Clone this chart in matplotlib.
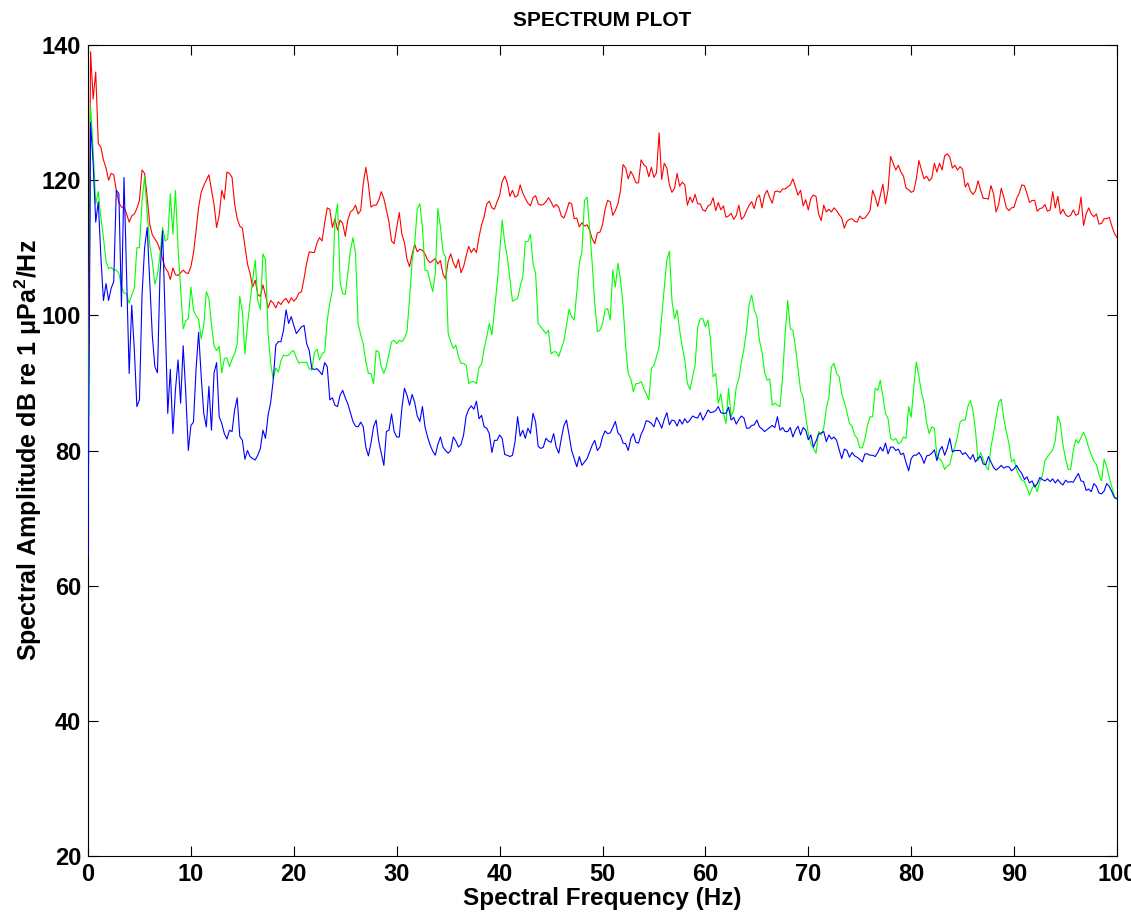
import numpy as np
import matplotlib
matplotlib.use('Agg')
import matplotlib.pyplot as plt

# frequency bins (Hz), 0.25 Hz spacing from 0 to 100
freq = np.arange(401) * 0.25

# spectral amplitudes (dB re 1 uPa^2/Hz), one row per 5 Hz
red_db = [
    82, 139, 132, 136, 125.4, 124.9, 123, 121.8, 120, 121, 120.8, 118.5, 116.7, 116, 116, 115, 113.8, 114.7, 115, 115.8,
    117, 121.5, 121, 117.5, 113.5, 111.9, 111.3, 110.7, 109.7, 108.3, 107, 106.5, 105.3, 107, 106, 105.9, 106.3, 106.7, 106.3, 106.2,
    107.2, 109.2, 112.5, 116, 118.2, 119.2, 120, 120.8, 118.6, 116.4, 113, 114.8, 118.5, 117.2, 121.2, 121, 120.4, 116.5, 114.3, 113.2,
    112.9, 110.3, 107.6, 106.2, 104.2, 105.2, 103.1, 102.8, 104.5, 103, 101.1, 102.2, 101.8, 101.1, 102, 101.6, 102.2, 102.5, 101.8, 102.6,
    102.1, 102.5, 103.3, 103.5, 105.5, 107.7, 109.4, 109.3, 109.3, 110.7, 111.5, 111, 113.7, 115.9, 115.7, 113, 114.3, 112.6, 114.1, 113.6,
    111.7, 114.1, 115.3, 115.6, 116.3, 115, 115.5, 119.5, 121.9, 119.4, 116, 116.3, 116.3, 117, 118.3, 117.3, 115.6, 113.8, 111, 110.6,
    113, 115.2, 112, 110.8, 108.3, 107.2, 109, 110.5, 109.4, 109.8, 109.6, 109.1, 108.2, 107.8, 108.1, 108.4, 107.6, 108.1, 106.1, 105.4,
    108, 109.1, 107.8, 107, 108.3, 106.3, 107.2, 108.8, 110.2, 109.3, 109.9, 109.3, 111.6, 113.4, 114.6, 116.5, 116.9, 115.9, 115.7, 116.8,
    117.7, 119.8, 120.6, 119.6, 117.6, 118.5, 117.5, 117.7, 119.3, 118.1, 117.3, 116.6, 116.2, 117.4, 117.7, 116.5, 116.3, 116.4, 116.8, 117.4,
    116.8, 116, 116.4, 116, 114.7, 114.4, 115.4, 116.7, 116.5, 114.3, 114.4, 113.1, 113.7, 113.2, 113.4, 112.6, 111.3, 110.6, 112.2, 112.3,
    113.4, 115.7, 117, 116.8, 114.8, 115.5, 116.5, 118.5, 122.3, 121.8, 120.2, 121.3, 120.6, 119.6, 119.6, 123, 122.3, 122, 120.5, 121.9,
    120.4, 121.1, 127, 120.1, 122.5, 121.8, 119.3, 118.2, 118.8, 121, 119.1, 119.7, 119.3, 116.3, 117.5, 116.7, 117.9, 116.5, 116.5, 115.6,
    115.4, 116.2, 116.4, 117.4, 115.5, 116.7, 115.6, 116.2, 114.5, 114.7, 115.1, 114.2, 114.8, 116.3, 114.2, 114.6, 115.5, 116.3, 116.8, 115.8,
    117.4, 117.8, 115.9, 117.8, 118.5, 117.4, 116.6, 118.3, 118.4, 118.2, 118.7, 118.7, 119, 119.3, 120.2, 119, 117.8, 118.5, 116.2, 117.1,
    115.6, 117.3, 117.8, 117.6, 115, 114, 116.3, 115.3, 115.7, 115.3, 115.9, 115.5, 114.9, 114.4, 112.9, 113.9, 114.2, 114.3, 113.9, 113.8,
    114.7, 114.3, 114.4, 114.9, 115.5, 118.5, 117.5, 116.1, 117.8, 119.4, 116.5, 118.6, 123.5, 122.5, 121.5, 122.2, 121.2, 120.6, 118.8, 118.6,
    118.2, 118.4, 120.2, 122.9, 121.5, 120.2, 120.6, 119.9, 120.3, 122.5, 121.2, 122.5, 121.5, 123.6, 123.9, 123.4, 121.8, 122.2, 121.5, 122,
    121.6, 119, 119.6, 118.4, 117.9, 118.4, 119.9, 118.5, 117.3, 117.3, 117.2, 119.2, 118, 115.3, 116.4, 118.8, 117.5, 115.9, 115.5, 115.9,
    116, 117.3, 118.1, 119.3, 119.2, 118, 116.7, 117, 117, 115.4, 115.8, 115.9, 116.4, 115.4, 115.6, 118.3, 115.9, 117.6, 115, 115.7,
    114.9, 114.6, 114.8, 115.6, 114.8, 115, 117.5, 113.3, 115, 115.9, 115, 114.6, 115, 113.5, 113.6, 114.3, 114.3, 114.5, 113.2, 112.1,
    111.5,
]

green_db = [
    74.6, 131, 124.5, 116.5, 118.3, 114.5, 111.5, 108, 106.9, 107.1, 106.7, 106.7, 106.2, 104.3, 103.3, 103.2, 101.8, 103, 104, 110,
    110, 117, 120.5, 115, 110.5, 108, 104.6, 106, 109, 113, 111, 111.3, 118, 112, 118.5, 110, 104, 98, 99.2, 99.5,
    104.2, 100.8, 99.9, 99.4, 96.5, 98.5, 103.5, 102.5, 98.6, 95.5, 94.8, 95.4, 91.5, 93.6, 93.7, 92.4, 93.5, 94.3, 95.8, 102.8,
    100.5, 94.3, 98.6, 102, 105.2, 108.2, 102.2, 100.9, 109.1, 108.2, 97.3, 92.9, 90.6, 92.2, 91.6, 93.3, 94.1, 94.0, 94.1, 94.6,
    94.8, 93.7, 92.9, 93.1, 93.0, 93.1, 92.1, 91.9, 94.5, 95.0, 93.4, 94.3, 94.6, 99.3, 101.8, 103.7, 114.1, 116.5, 104.9, 103.2,
    103.1, 106.2, 109.6, 111.5, 109.1, 98.8, 97.1, 95.8, 93.1, 91.4, 91.4, 89.9, 94.8, 94.6, 92.4, 91.4, 92.5, 94.3, 96.1, 96.3,
    95.8, 96.3, 96.1, 96.6, 97.6, 102.5, 108.0, 110.6, 115.8, 116.5, 113.0, 106.7, 106.6, 105.0, 103.5, 106.2, 115.8, 113.1, 109.4, 108.6,
    97.3, 96.1, 95.1, 95.6, 93.9, 92.9, 92.9, 92.6, 89.9, 90.2, 90.2, 89.9, 92.3, 92.8, 95.1, 96.8, 98.8, 97.1, 100.8, 104.5,
    109.1, 114.1, 110.7, 108.6, 105.3, 102.1, 102.3, 102.5, 104.3, 105.7, 110.9, 110.9, 112.0, 107.6, 106.2, 98.8, 98.3, 97.8, 97.3, 97.8,
    94.3, 94.6, 94.6, 93.9, 95.1, 96.2, 98.5, 100.9, 99.8, 99.3, 103.4, 107.7, 109.4, 117.0, 117.5, 112.8, 107.7, 101.7, 97.6, 97.8,
    98.8, 100.8, 101.0, 99.3, 106.7, 104.2, 107.7, 105.2, 101.5, 95.3, 91.4, 90.6, 88.7, 89.9, 89.9, 90.2, 89.2, 88.4, 87.5, 92.1,
    92.6, 93.9, 95.3, 99.8, 104.0, 108.2, 109.5, 102.2, 99.5, 100.8, 97.8, 95.3, 93.4, 89.9, 89.0, 90.9, 92.6, 98.3, 99.5, 99.5,
    98.3, 99.3, 96.3, 90.9, 91.4, 87.0, 88.4, 85.5, 84.0, 89.2, 85.0, 86.0, 89.4, 90.6, 93.1, 95.1, 97.8, 101.7, 103.0, 100.8,
    99.8, 96.3, 94.6, 91.6, 90.4, 90.6, 86.7, 87.0, 86.7, 86.5, 90.9, 97.3, 102.2, 98.0, 97.8, 95.3, 92.1, 88.9, 87.9, 85.0,
    82.5, 81.0, 80.3, 79.6, 82.8, 82.3, 83.3, 86.2, 87.9, 92.4, 92.9, 91.4, 90.9, 88.4, 87.2, 85.7, 84.0, 83.6, 82.3, 81.8,
    80.4, 80.4, 81.7, 83.7, 85.0, 85.0, 89.2, 88.9, 90.4, 88.0, 85.5, 84.7, 81.8, 81.5, 81.8, 81.0, 81.2, 82.0, 81.8, 86.5,
    84.9, 89.4, 93.1, 90.9, 88.6, 87.0, 84.1, 82.5, 83.5, 83.3, 79.1, 78.8, 78.3, 77.2, 77.7, 77.9, 79.6, 80.5, 82.1, 84.2,
    84.5, 84.5, 86.5, 87.4, 86.0, 82.9, 78.5, 79.7, 78.7, 77.7, 77.1, 80.5, 82.5, 85.0, 87.1, 87.6, 84.7, 82.8, 81.0, 78.3,
    78.7, 77.1, 76.3, 75.6, 75.4, 74.5, 73.4, 74.4, 75.0, 73.9, 75.4, 76.3, 78.5, 79.1, 79.6, 80.1, 81.5, 85.1, 84.0, 80.8,
    78.8, 77.2, 77.2, 80.0, 81.6, 81.1, 81.9, 82.7, 81.8, 80.4, 79.4, 78.4, 77.9, 76.4, 75.5, 78.7, 77.6, 76.0, 74.6, 73.2,
    72.7,
]

blue_db = [
    64.3, 128.5, 122.5, 113.8, 116.8, 108.7, 102.2, 104.7, 102.2, 104, 105, 118.5, 118, 101.3, 120.4, 106.2, 91.4, 101.5, 95, 86.5,
    87.5, 103, 110, 113, 105, 97, 92.4, 91.5, 106.2, 112.5, 99.5, 85.5, 92, 82.5, 89, 93.4, 87, 95.5, 88.5, 80.0,
    83.7, 84.2, 92, 97.5, 91, 85.5, 83.5, 89.5, 83, 91.5, 93, 85, 84, 82.5, 81.7, 83, 82.8, 86, 87.8, 82.1,
    81.5, 78.7, 80, 79.1, 78.8, 78.6, 79.3, 80.3, 83.0, 81.8, 85.2, 87.1, 90.4, 95.6, 96.1, 96.1, 97.8, 100.8, 98.8, 99.8,
    98.5, 97.3, 97.8, 98.3, 98.5, 95.8, 94.8, 92.1, 92.0, 92.1, 91.7, 91.2, 93.0, 92.4, 87.5, 87.8, 86.7, 86.5, 88.2, 88.9,
    87.8, 86.9, 85.6, 84.3, 83.6, 83.5, 84.2, 83.5, 80.5, 79.2, 81.1, 83.5, 84.5, 81.4, 79.6, 77.8, 82.8, 83.0, 85.4, 82.8,
    82.0, 82.0, 86.2, 89.2, 88.2, 86.7, 88.3, 87.1, 85.1, 84.3, 86.5, 83.5, 82.0, 80.8, 79.9, 79.3, 80.9, 82.0, 80.5, 80.0,
    79.6, 80.0, 82.0, 81.4, 80.5, 80.9, 82.3, 85.1, 86.1, 86.6, 86.1, 87.3, 84.7, 85.2, 83.5, 83.3, 82.5, 79.7, 81.5, 81.5,
    82.3, 81.8, 79.4, 79.3, 79.1, 79.3, 81.3, 85.0, 82.1, 83.0, 81.8, 83.3, 82.5, 85.5, 84.2, 80.6, 80.3, 80.5, 81.8, 81.4,
    81.2, 82.5, 80.5, 79.6, 81.8, 83.7, 84.5, 82.3, 80.0, 78.8, 77.6, 79.1, 77.8, 78.3, 78.8, 79.8, 80.8, 81.5, 80.0, 80.5,
    82.0, 82.9, 82.5, 82.6, 83.4, 84.3, 82.6, 82.2, 81.1, 81.0, 80.0, 81.8, 82.5, 81.2, 81.1, 82.4, 83.2, 84.4, 84.3, 84.0,
    83.5, 84.9, 84.2, 83.3, 84.6, 85.6, 83.8, 84.5, 84.4, 83.6, 84.6, 83.9, 84.7, 84.1, 84.5, 85.1, 84.9, 84.8, 85.6, 84.5,
    85.2, 86.0, 85.6, 85.7, 85.9, 86.5, 85.6, 85.5, 85.5, 86.4, 84.5, 84.9, 83.9, 84.6, 85.1, 84.8, 83.3, 83.3, 83.7, 83.8,
    84.5, 83.5, 83.2, 82.8, 83.1, 83.4, 83.7, 83.4, 85.0, 83.0, 83.4, 82.8, 82.8, 83.4, 82.0, 83.0, 83.6, 82.3, 83.4, 83.0,
    81.6, 82.3, 80.5, 81.4, 82.4, 82.6, 82.8, 81.3, 82.3, 81.7, 82.0, 81.5, 80.1, 78.8, 80.2, 80.0, 79.0, 79.7, 79.2, 79.0,
    78.7, 78.3, 79.5, 79.5, 79.3, 79.3, 79.1, 79.7, 80.5, 79.9, 81.1, 79.5, 80.5, 80.5, 80.0, 80.2, 79.4, 79.6, 78.2, 77.0,
    78.8, 79.3, 79.3, 79.7, 79.1, 78.1, 79.2, 79.3, 79.6, 80.1, 78.5, 80.0, 80.6, 79.3, 80.3, 81.8, 79.8, 80.0, 80.0, 80.0,
    79.4, 79.7, 79.2, 78.7, 79.4, 78.3, 78.9, 79.1, 78.0, 77.9, 79.1, 78.3, 77.5, 77.1, 77.4, 77.8, 77.4, 77.6, 77.6, 77.0,
    77.3, 77.8, 77.1, 76.6, 75.7, 76.1, 75.2, 75.5, 74.6, 75.1, 76.0, 75.7, 75.5, 75.8, 75.4, 75.8, 75.2, 75.7, 75.2, 74.9,
    75.6, 75.3, 75.4, 75.3, 76.0, 76.6, 75.5, 75.4, 74.1, 74.3, 73.9, 75.1, 74.7, 73.7, 73.6, 74.0, 75.1, 74.7, 73.9, 73.0,
    72.9,
]

x_ticks = list(range(0, 101, 10))
y_ticks = list(range(20, 141, 20))

plt.rcParams['font.family'] = ['Liberation Sans', 'DejaVu Sans']
plt.rcParams['font.weight'] = 'bold'
plt.rcParams['mathtext.fontset'] = 'custom'
plt.rcParams['mathtext.rm'] = 'Liberation Sans:bold'
plt.rcParams['mathtext.bf'] = 'Liberation Sans:bold'
plt.rcParams['mathtext.it'] = 'Liberation Sans:bold'


def make_plot():
    fig = plt.figure(figsize=(11.31, 9.19), dpi=100)
    ax = fig.add_axes([88 / 1131, 63 / 919, 1029 / 1131, 811 / 919])

    # one trace per channel, drawn over the box like matlab does
    ax.plot(freq, red_db, color='#ff0000', lw=0.8, zorder=3)
    ax.plot(freq, green_db, color='#00ff00', lw=0.8, zorder=3)
    ax.plot(freq, blue_db, color='#0000ff', lw=0.8, zorder=3)

    ### axes, ticks and labels ###
    ax.set_xlim(0, 100)
    ax.set_ylim(20, 140)
    ax.set_xticks(x_ticks)
    ax.set_yticks(y_ticks)
    ax.tick_params(direction='in', length=7, width=0.8, top=True, right=True,
                   labelsize=17, pad=5)
    for lbl in ax.get_xticklabels() + ax.get_yticklabels():
        lbl.set_fontweight('bold')
    for sp in ax.spines.values():
        sp.set_linewidth(0.8)

    ax.set_title('SPECTRUM PLOT', fontsize=15, fontweight='bold', pad=14)
    ax.set_xlabel('Spectral Frequency (Hz)', fontsize=17.5, fontweight='bold', labelpad=1)
    ax.set_ylabel('Spectral Amplitude dB re 1 μPa$^{2}$/Hz', fontsize=18,
                  fontweight='bold', labelpad=-2)

    fig.savefig('out.png', dpi=100)


make_plot()
